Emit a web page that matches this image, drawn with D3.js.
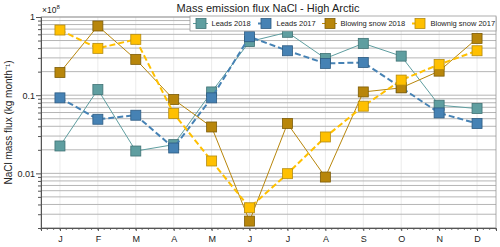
<!DOCTYPE html>
<html lang="en">
<head>
<meta charset="UTF-8">
<title>Mass emission flux NaCl - High Arctic</title>
<script src="https://d3js.org/d3.v7.min.js"></script>
<style>
    body { margin: 0; background: white; font-family: "Liberation Sans", Arial, sans-serif; }
    svg text { fill: #222; }
</style>
</head>
<body>
<svg id="chart" width="500" height="247"></svg>
<script>
    const months = ["J", "F", "M", "A", "M", "J", "J", "A", "S", "O", "N", "D"];
    const yTicks = [1, 0.1, 0.01];

    // values in units of 1e8 kg/month
    const leads2018 = [0.0224, 0.118, 0.0193, 0.0233, 0.110, 0.485, 0.637, 0.295, 0.46, 0.316, 0.0744, 0.0675];
    const leads2017 = [0.0924, 0.0492, 0.0554, 0.0211, 0.0924, 0.56, 0.37, 0.255, 0.262, 0.125, 0.0593, 0.0434];
    const snow2018 = [0.195, 0.767, 0.287, 0.088, 0.0392, 0.00245, 0.0434, 0.00897, 0.110, 0.124, 0.203, 0.532];
    const snow2017 = [0.681, 0.397, 0.518, 0.0582, 0.0144, 0.00363, 0.0099, 0.0292, 0.0723, 0.156, 0.247, 0.37];

    const series = [
        { name: "Leads 2018", values: leads2018, fill: "#5f9ea0", stroke: "#3f7274", width: 1, dash: null },
        { name: "Leads 2017", values: leads2017, fill: "#4682b4", stroke: "#2d5b82", width: 2, dash: "6,3" },
        { name: "Blowing snow 2018", values: snow2018, fill: "#b8860b", stroke: "#7d5c08", width: 1, dash: null },
        { name: "Blownig snow 2017", values: snow2017, fill: "#ffc000", stroke: "#b38a10", width: 2, dash: "6,3" }
    ];

    const width = 500, height = 247;
    const margin = { top: 17, right: 4, bottom: 19, left: 41 };
    const iw = width - margin.left - margin.right;
    const ih = height - margin.top - margin.bottom;

    const svg = d3.select("#chart");
    const g = svg.append("g").attr("transform", `translate(${margin.left},${margin.top})`);

    const x = d3.scalePoint().domain(d3.range(12)).range([0, iw]).padding(0.5);
    const y = d3.scaleLog().domain([0.002, 1]).range([ih, 0]);

    // vertical grid
    g.append("g").selectAll("line")
        .data(d3.range(12)).enter().append("line")
        .attr("x1", d => x(d)).attr("x2", d => x(d))
        .attr("y1", 0).attr("y2", ih)
        .attr("stroke", "#ebebeb").attr("stroke-width", 1);

    // horizontal grid at every log tick
    const allTicks = y.ticks();
    g.append("g").selectAll("line")
        .data(allTicks).enter().append("line")
        .attr("x1", 0).attr("x2", iw)
        .attr("y1", d => y(d)).attr("y2", d => y(d))
        .attr("stroke", "#b5b5b5").attr("stroke-width", 1);

    // frame
    g.append("rect")
        .attr("x", 0).attr("y", 0).attr("width", iw).attr("height", ih)
        .attr("fill", "none").attr("stroke", "#9a9a9a").attr("stroke-width", 0.8);

    // y axis: minor ticks + major labels
    const yAxis = g.append("g").call(d3.axisLeft(y)
        .tickValues(allTicks)
        .tickSize(3)
        .tickFormat(d => yTicks.includes(d) ? String(d) : ""));
    yAxis.select(".domain").attr("stroke", "#555");
    yAxis.selectAll(".tick line").attr("stroke", "#555");
    yAxis.selectAll(".tick text").attr("font-size", 9).attr("font-family", "Liberation Sans, Arial, sans-serif").attr("fill", "#222");
    yAxis.selectAll(".tick").filter(d => yTicks.includes(d)).select("line").attr("x2", -5);

    // x axis
    const xAxis = g.append("g").attr("transform", `translate(0,${ih})`)
        .call(d3.axisBottom(x).tickSize(3).tickFormat(i => months[i]));
    xAxis.select(".domain").attr("stroke", "#555");
    xAxis.selectAll(".tick line").attr("stroke", "#555");
    xAxis.selectAll(".tick text").attr("font-size", 9).attr("dy", "0.9em")
        .attr("font-family", "Liberation Sans, Arial, sans-serif").attr("fill", "#222");

    // minor x ticks
    const step = x.step();
    const minor = [];
    for (let k = 0; k <= 12 * 6; k++) minor.push(k * step / 6);
    g.append("g").selectAll("line").data(minor).enter().append("line")
        .attr("x1", d => d).attr("x2", d => d)
        .attr("y1", ih).attr("y2", ih + 2)
        .attr("stroke", "#555").attr("stroke-width", 0.8);

    // series
    const line = d3.line().x((d, i) => x(i)).y(d => y(d));
    series.forEach(s => {
        g.append("path")
            .attr("d", line(s.values))
            .attr("fill", "none")
            .attr("stroke", s.fill)
            .attr("stroke-width", s.width)
            .attr("stroke-dasharray", s.dash);
        g.append("g").selectAll("rect")
            .data(s.values).enter().append("rect")
            .attr("x", (d, i) => x(i) - 5)
            .attr("y", d => y(d) - 5)
            .attr("width", 10).attr("height", 10)
            .attr("fill", s.fill)
            .attr("stroke", s.stroke).attr("stroke-width", 0.8);
    });

    // legend
    const legend = svg.append("g").attr("transform", "translate(190,16)");
    legend.append("rect")
        .attr("width", 306).attr("height", 15)
        .attr("fill", "white").attr("stroke", "#999").attr("stroke-width", 0.8);
    const legendX = [3, 68, 132, 222];
    series.forEach((s, i) => {
        const lg = legend.append("g").attr("transform", `translate(${legendX[i]},7.5)`);
        lg.append("line").attr("x1", 0).attr("x2", 15)
            .attr("stroke", s.fill).attr("stroke-width", s.width)
            .attr("stroke-dasharray", s.dash ? "3,2" : null);
        lg.append("rect").attr("x", 3).attr("y", -5).attr("width", 10).attr("height", 10)
            .attr("fill", s.fill).attr("stroke", s.stroke).attr("stroke-width", 0.8);
        lg.append("text").attr("x", 18.5).attr("y", 2.8)
            .attr("font-size", 7.5).text(s.name);
    });

    // title
    svg.append("text")
        .attr("x", 268).attr("y", 12)
        .attr("text-anchor", "middle")
        .attr("font-size", 11)
        .text("Mass emission flux NaCl - High Arctic");

    // exponent label
    const exp = svg.append("text").attr("x", 42).attr("y", 13).attr("font-size", 8.5);
    exp.append("tspan").text("×10");
    exp.append("tspan").attr("dy", -4).attr("font-size", 6).text("8");

    // y label
    svg.append("text")
        .attr("transform", `translate(12,${margin.top + ih / 2}) rotate(-90)`)
        .attr("text-anchor", "middle")
        .attr("font-size", 10)
        .text("NaCl mass flux (kg month⁻¹)");
</script>
</body>
</html>
